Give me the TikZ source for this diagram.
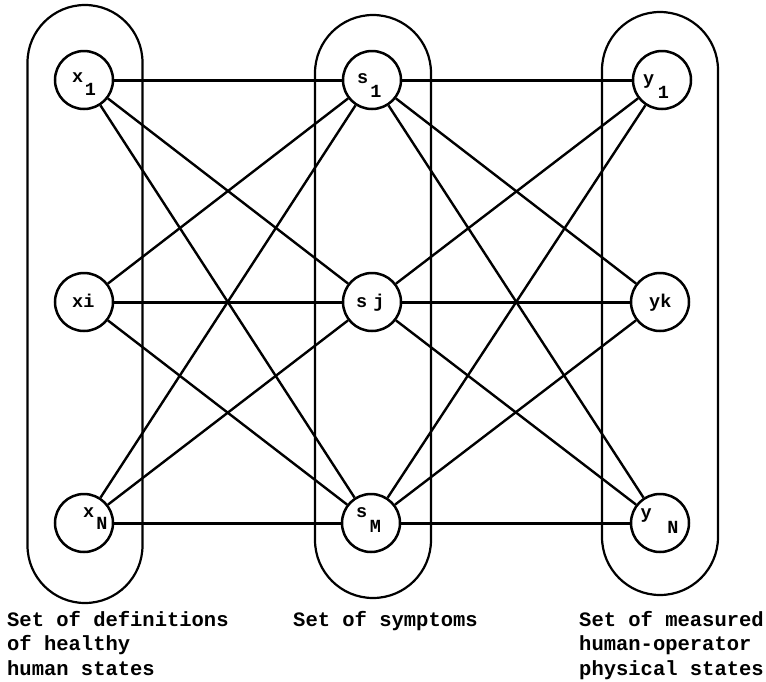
\documentclass[tikz,border=0pt]{standalone}
\usepackage{fontspec}
\setmonofont{Liberation Mono}
\begin{document}
\begin{tikzpicture}[x=1pt,y=-1pt,
  setbox/.style={draw=black,line width=2.2pt},
  state/.style={circle,draw=black,line width=2.5pt,minimum size=58pt,inner sep=0pt},
  lab/.style={anchor=base west,inner sep=0pt,font=\fontsize{18.5}{20}\ttfamily\bfseries},
  captext/.style={anchor=base west,inner sep=0pt,font=\fontsize{20.5}{24}\ttfamily\bfseries},
  link/.style={line width=2.4pt},
  hlink/.style={line width=3pt}]
\useasboundingbox (0,0) rectangle (766,681);
% capsules
\draw[setbox,rounded corners=57.5pt] (27.5,5) rectangle (142.5,603);
\draw[setbox,rounded corners=58pt] (315,15) rectangle (431,598);
\draw[setbox,rounded corners=58pt] (602,12) rectangle (718,595);
% states
\node[state] (x1) at (84,80) {};
\node[state] (xi) at (84,302) {};
\node[state] (xN) at (84,523) {};
\node[state] (s1) at (372,80) {};
\node[state] (sj) at (372,302) {};
\node[state] (sM) at (371,523) {};
\node[state] (y1) at (662,80) {};
\node[state] (yk) at (660,302) {};
\node[state] (yN) at (660,523) {};
% labels
\node[lab] (lx1) at (72,82) {x\hspace{1.5pt}\raisebox{-13pt}{1}};
\node[lab] (lxi) at (72,307) {xi};
\node[lab] (lxN) at (83,517) {x\hspace{2pt}\raisebox{-12pt}{N}};
\node[lab] (ls1) at (357,83) {s\hspace{2pt}\raisebox{-14pt}{1}};
\node[lab] (lsj) at (356,307) {s\hspace{6pt}j};
\node[lab] (lsM) at (356,517) {s\hspace{2.5pt}\raisebox{-15pt}{M}};
\node[lab] (ly1) at (643,84) {y\hspace{3.5pt}\raisebox{-14pt}{1}};
\node[lab] (lyk) at (649,307) {yk};
\node[lab] (lyN) at (640.5,518) {y\hspace{15.5pt}\raisebox{-15pt}{N}};
% connectors left
\draw[hlink] (x1) -- (s1);
\draw[hlink] (xi) -- (sj);
\draw[hlink] (xN) -- (sM);
\draw[link] (x1) -- (sj);
\draw[link] (x1) -- (sM);
\draw[link] (xi) -- (s1);
\draw[link] (xi) -- (sM);
\draw[link] (xN) -- (s1);
\draw[link] (xN) -- (sj);
% connectors right
\draw[hlink] (s1) -- (y1);
\draw[hlink] (sj) -- (yk);
\draw[hlink] (sM) -- (yN);
\draw[link] (s1) -- (yk);
\draw[link] (s1) -- (yN);
\draw[link] (sj) -- (y1);
\draw[link] (sj) -- (yN);
\draw[link] (sM) -- (y1);
\draw[link] (sM) -- (yk);
% captions
\node[captext] (c1a) at (7,626) {Set of definitions};
\node[captext] (c1b) at (7,650.5) {of healthy};
\node[captext] (c1c) at (7,675) {human states};
\node[captext] (c2) at (293,626) {Set of symptoms};
\node[captext] (c3a) at (579,626) {Set of measured};
\node[captext] (c3b) at (579,650.5) {human-operator};
\node[captext] (c3c) at (579,675) {physical states};
\end{tikzpicture}
\end{document}
